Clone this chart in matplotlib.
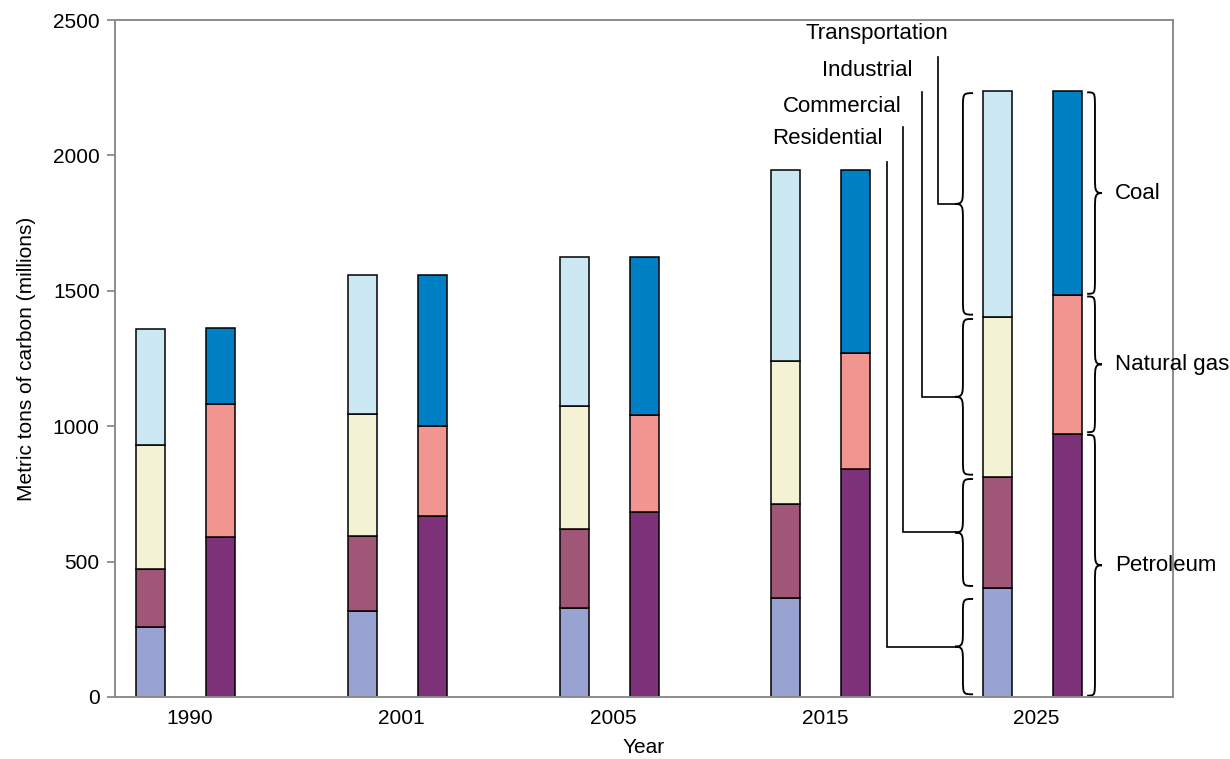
import numpy as np
import matplotlib.pyplot as plt
from matplotlib.path import Path
from matplotlib.patches import PathPatch

plt.rcParams['font.family'] = ['Liberation Sans', 'DejaVu Sans']

years = ["1990", "2001", "2005", "2015", "2025"]

# carbon emissions by end-use sector (millions of metric tons)
sectors = ["Residential", "Commercial", "Industrial", "Transportation"]
residential = [258, 316, 330, 367, 402]
commercial = [215, 277, 289, 345, 411]
industrial = [456, 452, 457, 529, 591]
transportation = [431, 514, 549, 704, 834]

# the same totals split by fuel
fuels = ["Petroleum", "Natural gas", "Coal"]
petroleum = [592, 670, 682, 841, 973]
natural_gas = [489, 330, 360, 431, 511]
coal = [280, 559, 583, 673, 754]

sector_colors = ["#99a3d1", "#a05677", "#f3f2d4", "#cbe8f3"]
fuel_colors = ["#7d3179", "#f09590", "#0080c4"]


def brace(ax, y0, y1, x_end, x_spine, x_tip, r=60, lw=1.35):
    """Curly brace between y0 and y1, tip pointing towards x_tip."""
    ym = (y0 + y1) / 2
    verts = [
        (x_end, y1),
        (x_spine, y1), (x_spine, y1), (x_spine, y1 - r),
        (x_spine, ym + r),
        (x_spine, ym + r * 0.2), (x_spine, ym), (x_tip, ym),
        (x_spine, ym), (x_spine, ym - r * 0.2), (x_spine, ym - r),
        (x_spine, y0 + r),
        (x_spine, y0), (x_spine, y0), (x_end, y0),
    ]
    codes = [Path.MOVETO,
             Path.CURVE4, Path.CURVE4, Path.CURVE4,
             Path.LINETO,
             Path.CURVE4, Path.CURVE4, Path.CURVE4,
             Path.CURVE4, Path.CURVE4, Path.CURVE4,
             Path.LINETO,
             Path.CURVE4, Path.CURVE4, Path.CURVE4]
    ax.add_patch(PathPatch(Path(verts, codes), fill=False, lw=lw,
                           edgecolor="black", capstyle="butt"))
    return ym


fig = plt.figure(figsize=(12.3, 7.59), dpi=100)
ax = fig.add_axes([0.0935, 0.0817, 0.8602, 0.8919])

x = np.arange(len(years))
width = 0.137
x_sector = x + 0.17
x_fuel = x + 0.50

bottom = np.zeros(len(years))
for vals, c in zip([residential, commercial, industrial, transportation], sector_colors):
    ax.bar(x_sector, vals, width, bottom=bottom, color=c, edgecolor="black", linewidth=1.1)
    bottom += vals

bottom = np.zeros(len(years))
for vals, c in zip([petroleum, natural_gas, coal], fuel_colors):
    ax.bar(x_fuel, vals, width, bottom=bottom, color=c, edgecolor="black", linewidth=1.1)
    bottom += vals

# braces and labels on the last year
last = len(years) - 1
sec_vals = [residential[last], commercial[last], industrial[last], transportation[last]]
sec_edges = np.concatenate([[0], np.cumsum(sec_vals)])
fuel_vals = [petroleum[last], natural_gas[last], coal[last]]
fuel_edges = np.concatenate([[0], np.cumsum(fuel_vals)])

leader_x = [3.648, 3.724, 3.814, 3.889]
leader_top = [1976, 2105, 2234, 2363]
label_x = [3.629, 3.715, 3.771, 3.937]
label_y = [2061, 2182, 2315, 2452]
pads = [(10, 40), (8, 8), (8, 8), (8, 8)]
for i, name in enumerate(sectors):
    lo = sec_edges[i] + pads[i][0]
    hi = sec_edges[i + 1] - pads[i][1]
    ym = brace(ax, lo, hi, 4.055, 4.007, 3.970)
    ax.plot([leader_x[i], leader_x[i], 3.970], [leader_top[i], ym, ym],
            color="black", lw=1.2, solid_joinstyle="miter")
    ax.text(label_x[i], label_y[i], name, ha="right", va="center", fontsize=16)

for i, name in enumerate(fuels):
    lo = fuel_edges[i] + 5
    hi = fuel_edges[i + 1] - 5
    ym = brace(ax, lo, hi, 4.594, 4.631, 4.664)
    ax.text(4.726, ym, name, ha="left", va="center", fontsize=16)

ax.set_xlim(0, 5)
ax.set_ylim(0, 2500)
ax.set_yticks(np.arange(0, 2501, 500))
ax.set_xticks(x + 0.355)
ax.set_xticklabels(years)
ax.tick_params(axis="x", length=0, pad=9, labelsize=15)
ax.tick_params(axis="y", length=6, width=1.2, color="#808080", pad=5, labelsize=15)
for s in ax.spines.values():
    s.set_color("#8c8c8c")
    s.set_linewidth(1.4)

ax.set_xlabel("Year", fontsize=15, labelpad=7)
ax.set_ylabel("Metric tons of carbon (millions)", fontsize=15, labelpad=12)

fig.savefig("out.png", dpi=100)
